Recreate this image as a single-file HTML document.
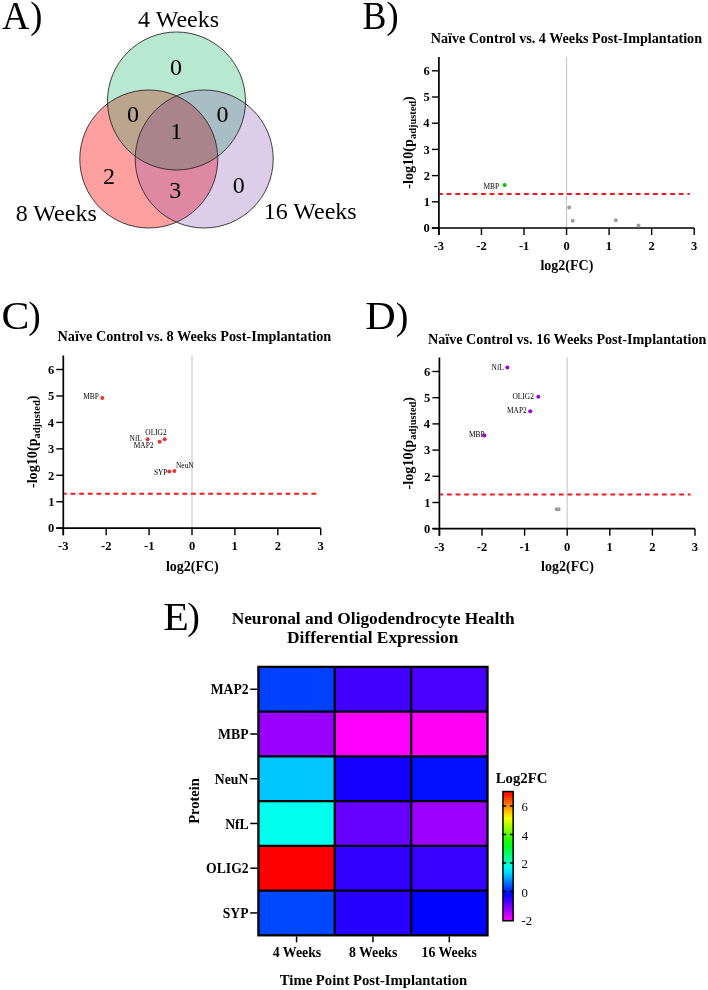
<!DOCTYPE html>
<html><head><meta charset="utf-8"><style>
html,body{margin:0;padding:0;background:#fff;}
svg{display:block;font-family:"Liberation Serif", serif;will-change:transform;}
</style></head><body>
<svg width="708" height="990" viewBox="0 0 708 990">
<rect width="708" height="990" fill="#fff"/>
<defs>
<clipPath id="cg"><circle cx="176.5" cy="101.0" r="69"/></clipPath>
<clipPath id="cp"><circle cx="148.8" cy="159.0" r="69"/></clipPath>
<clipPath id="cu"><circle cx="204.2" cy="159.0" r="69"/></clipPath>
</defs>
<circle cx="176.5" cy="101.0" r="69" fill="#b9e8d1"/>
<circle cx="148.8" cy="159.0" r="69" fill="#ffa0a0"/>
<circle cx="204.2" cy="159.0" r="69" fill="#dccde8"/>
<g clip-path="url(#cg)"><circle cx="148.8" cy="159.0" r="69" fill="#bba58f"/><circle cx="204.2" cy="159.0" r="69" fill="#a8bec4"/></g>
<g clip-path="url(#cp)"><circle cx="204.2" cy="159.0" r="69" fill="#de88a3"/></g>
<g clip-path="url(#cg)"><g clip-path="url(#cp)"><circle cx="204.2" cy="159.0" r="69" fill="#a9848a"/></g></g>
<circle cx="176.5" cy="101.0" r="69" fill="none" stroke="#2a2a2a" stroke-width="0.9"/>
<circle cx="148.8" cy="159.0" r="69" fill="none" stroke="#2a2a2a" stroke-width="0.9"/>
<circle cx="204.2" cy="159.0" r="69" fill="none" stroke="#2a2a2a" stroke-width="0.9"/>
<text x="170.10" y="75.40" font-size="24" font-weight="normal" >0</text>
<text x="126.90" y="122.30" font-size="24" font-weight="normal" >0</text>
<text x="216.40" y="122.30" font-size="24" font-weight="normal" >0</text>
<text x="170.27" y="138.60" font-size="24" font-weight="normal" >1</text>
<text x="102.92" y="183.80" font-size="24" font-weight="normal" >2</text>
<text x="169.21" y="197.60" font-size="24" font-weight="normal" >3</text>
<text x="232.70" y="192.70" font-size="24" font-weight="normal" >0</text>
<text x="138.12" y="26.60" font-size="24" font-weight="normal" >4 Weeks</text>
<text x="15.80" y="220.60" font-size="24" font-weight="normal" >8 Weeks</text>
<text x="263.70" y="219.40" font-size="24" font-weight="normal" >16 Weeks</text>
<text x="2.12" y="28.80" font-size="39.5" textLength="27.45" lengthAdjust="spacingAndGlyphs">A</text>
<text x="30.31" y="27.83" font-size="37.5" textLength="12.16" lengthAdjust="spacingAndGlyphs">)</text>
<text x="362.52" y="28.80" font-size="39.5" textLength="23.95" lengthAdjust="spacingAndGlyphs">B</text>
<text x="386.41" y="27.83" font-size="37.5" textLength="12.16" lengthAdjust="spacingAndGlyphs">)</text>
<text x="1.53" y="328.50" font-size="39.5" textLength="27.84" lengthAdjust="spacingAndGlyphs">C</text>
<text x="28.18" y="328.23" font-size="37.5" textLength="12.54" lengthAdjust="spacingAndGlyphs">)</text>
<text x="365.34" y="328.90" font-size="39.5" textLength="30.44" lengthAdjust="spacingAndGlyphs">D</text>
<text x="395.76" y="328.63" font-size="37.5" textLength="12.67" lengthAdjust="spacingAndGlyphs">)</text>
<text x="163.34" y="629.60" font-size="39.5" textLength="25.59" lengthAdjust="spacingAndGlyphs">E</text>
<text x="187.36" y="628.93" font-size="37.5" textLength="12.67" lengthAdjust="spacingAndGlyphs">)</text>
<line x1="566.55" y1="56.91" x2="566.55" y2="228.00" stroke="#c8c8c8" stroke-width="1.1"/>
<line x1="439.75" y1="193.91" x2="689.70" y2="193.91" stroke="#f21820" stroke-width="2" stroke-dasharray="4.8 3.8" stroke-dashoffset="1.75"/>
<path d="M438.90 56.91 V235.00 M431.90 228.00 H694.20" fill="none" stroke="#000" stroke-width="1.7"/>
<line x1="431.90" y1="228.00" x2="438.90" y2="228.00" stroke="#000" stroke-width="1.4"/>
<text x="423.62" y="232.20" font-size="12.5" font-weight="bold" >0</text>
<line x1="431.90" y1="201.80" x2="438.90" y2="201.80" stroke="#000" stroke-width="1.4"/>
<text x="423.81" y="206.00" font-size="12.5" font-weight="bold" >1</text>
<line x1="431.90" y1="175.60" x2="438.90" y2="175.60" stroke="#000" stroke-width="1.4"/>
<text x="423.68" y="179.80" font-size="12.5" font-weight="bold" >2</text>
<line x1="431.90" y1="149.40" x2="438.90" y2="149.40" stroke="#000" stroke-width="1.4"/>
<text x="423.59" y="153.60" font-size="12.5" font-weight="bold" >3</text>
<line x1="431.90" y1="123.20" x2="438.90" y2="123.20" stroke="#000" stroke-width="1.4"/>
<text x="423.37" y="127.40" font-size="12.5" font-weight="bold" >4</text>
<line x1="431.90" y1="97.00" x2="438.90" y2="97.00" stroke="#000" stroke-width="1.4"/>
<text x="423.62" y="101.20" font-size="12.5" font-weight="bold" >5</text>
<line x1="431.90" y1="70.80" x2="438.90" y2="70.80" stroke="#000" stroke-width="1.4"/>
<text x="423.52" y="75.00" font-size="12.5" font-weight="bold" >6</text>
<line x1="438.90" y1="228.00" x2="438.90" y2="235.00" stroke="#000" stroke-width="1.4"/>
<text x="433.68" y="249.80" font-size="12.5" font-weight="bold" >-3</text>
<line x1="481.45" y1="228.00" x2="481.45" y2="235.00" stroke="#000" stroke-width="1.4"/>
<text x="476.28" y="249.80" font-size="12.5" font-weight="bold" >-2</text>
<line x1="524.00" y1="228.00" x2="524.00" y2="235.00" stroke="#000" stroke-width="1.4"/>
<text x="518.89" y="249.80" font-size="12.5" font-weight="bold" >-1</text>
<line x1="566.55" y1="228.00" x2="566.55" y2="235.00" stroke="#000" stroke-width="1.4"/>
<text x="563.42" y="249.80" font-size="12.5" font-weight="bold" >0</text>
<line x1="609.10" y1="228.00" x2="609.10" y2="235.00" stroke="#000" stroke-width="1.4"/>
<text x="605.80" y="249.80" font-size="12.5" font-weight="bold" >1</text>
<line x1="651.65" y1="228.00" x2="651.65" y2="235.00" stroke="#000" stroke-width="1.4"/>
<text x="648.52" y="249.80" font-size="12.5" font-weight="bold" >2</text>
<line x1="694.20" y1="228.00" x2="694.20" y2="235.00" stroke="#000" stroke-width="1.4"/>
<text x="691.06" y="249.80" font-size="12.5" font-weight="bold" >3</text>
<text x="540.47" y="270.30" font-size="14" font-weight="bold" >log2(FC)</text>
<text transform="translate(412.90,142.46) rotate(-90)" font-size="14.2" font-weight="bold" text-anchor="middle">-log10(p<tspan font-size="10.4" dy="2.9">adjusted</tspan><tspan dy="-2.9">)</tspan></text>
<text x="430.72" y="42.50" font-size="14.15" font-weight="bold" >Naïve Control vs. 4 Weeks Post-Implantation</text>
<circle cx="569.2" cy="207.4" r="2" fill="#9e9e9e"/>
<circle cx="572.7" cy="220.7" r="2" fill="#9e9e9e"/>
<circle cx="615.9" cy="220.2" r="2" fill="#9e9e9e"/>
<circle cx="638.5" cy="225.5" r="2" fill="#9e9e9e"/>
<circle cx="504.7" cy="184.9" r="2" fill="#00c000"/>
<text x="483.38" y="188.90" font-size="7.4" font-weight="normal" >MBP</text>
<line x1="192.00" y1="355.48" x2="192.00" y2="528.20" stroke="#c8c8c8" stroke-width="1.1"/>
<line x1="64.15" y1="493.79" x2="316.20" y2="493.79" stroke="#f21820" stroke-width="2" stroke-dasharray="4.8 3.8" stroke-dashoffset="2.15"/>
<path d="M63.30 355.48 V535.20 M56.30 528.20 H320.70" fill="none" stroke="#000" stroke-width="1.7"/>
<line x1="56.30" y1="528.20" x2="63.30" y2="528.20" stroke="#000" stroke-width="1.4"/>
<text x="48.02" y="532.40" font-size="12.5" font-weight="bold" >0</text>
<line x1="56.30" y1="501.75" x2="63.30" y2="501.75" stroke="#000" stroke-width="1.4"/>
<text x="48.21" y="505.95" font-size="12.5" font-weight="bold" >1</text>
<line x1="56.30" y1="475.30" x2="63.30" y2="475.30" stroke="#000" stroke-width="1.4"/>
<text x="48.08" y="479.50" font-size="12.5" font-weight="bold" >2</text>
<line x1="56.30" y1="448.85" x2="63.30" y2="448.85" stroke="#000" stroke-width="1.4"/>
<text x="47.99" y="453.05" font-size="12.5" font-weight="bold" >3</text>
<line x1="56.30" y1="422.40" x2="63.30" y2="422.40" stroke="#000" stroke-width="1.4"/>
<text x="47.77" y="426.60" font-size="12.5" font-weight="bold" >4</text>
<line x1="56.30" y1="395.95" x2="63.30" y2="395.95" stroke="#000" stroke-width="1.4"/>
<text x="48.02" y="400.15" font-size="12.5" font-weight="bold" >5</text>
<line x1="56.30" y1="369.50" x2="63.30" y2="369.50" stroke="#000" stroke-width="1.4"/>
<text x="47.92" y="373.70" font-size="12.5" font-weight="bold" >6</text>
<line x1="63.30" y1="528.20" x2="63.30" y2="535.20" stroke="#000" stroke-width="1.4"/>
<text x="58.08" y="550.00" font-size="12.5" font-weight="bold" >-3</text>
<line x1="106.20" y1="528.20" x2="106.20" y2="535.20" stroke="#000" stroke-width="1.4"/>
<text x="101.03" y="550.00" font-size="12.5" font-weight="bold" >-2</text>
<line x1="149.10" y1="528.20" x2="149.10" y2="535.20" stroke="#000" stroke-width="1.4"/>
<text x="143.99" y="550.00" font-size="12.5" font-weight="bold" >-1</text>
<line x1="192.00" y1="528.20" x2="192.00" y2="535.20" stroke="#000" stroke-width="1.4"/>
<text x="188.88" y="550.00" font-size="12.5" font-weight="bold" >0</text>
<line x1="234.90" y1="528.20" x2="234.90" y2="535.20" stroke="#000" stroke-width="1.4"/>
<text x="231.60" y="550.00" font-size="12.5" font-weight="bold" >1</text>
<line x1="277.80" y1="528.20" x2="277.80" y2="535.20" stroke="#000" stroke-width="1.4"/>
<text x="274.68" y="550.00" font-size="12.5" font-weight="bold" >2</text>
<line x1="320.70" y1="528.20" x2="320.70" y2="535.20" stroke="#000" stroke-width="1.4"/>
<text x="317.56" y="550.00" font-size="12.5" font-weight="bold" >3</text>
<text x="165.91" y="570.50" font-size="14" font-weight="bold" >log2(FC)</text>
<text transform="translate(37.30,441.84) rotate(-90)" font-size="14.2" font-weight="bold" text-anchor="middle">-log10(p<tspan font-size="10.4" dy="2.9">adjusted</tspan><tspan dy="-2.9">)</tspan></text>
<text x="57.51" y="340.60" font-size="14.27" font-weight="bold" >Naïve Control vs. 8 Weeks Post-Implantation</text>
<circle cx="102.3" cy="398.0" r="2" fill="#f03030"/>
<circle cx="147.6" cy="439.2" r="2" fill="#f03030"/>
<circle cx="159.7" cy="441.7" r="2" fill="#f03030"/>
<circle cx="164.7" cy="439.3" r="2" fill="#f03030"/>
<circle cx="169.3" cy="471.4" r="2" fill="#f03030"/>
<circle cx="174.4" cy="471.0" r="2" fill="#f03030"/>
<text x="83.18" y="399.20" font-size="7.4" font-weight="normal" >MBP</text>
<text x="145.30" y="434.60" font-size="7.4" font-weight="normal" >OLIG2</text>
<text x="129.58" y="441.00" font-size="7.4" font-weight="normal" >NfL</text>
<text x="133.78" y="447.60" font-size="7.4" font-weight="normal" >MAP2</text>
<text x="175.88" y="468.10" font-size="7.4" font-weight="normal" >NeuN</text>
<text x="153.90" y="475.30" font-size="7.4" font-weight="normal" >SYP</text>
<line x1="567.20" y1="357.61" x2="567.20" y2="528.70" stroke="#c8c8c8" stroke-width="1.1"/>
<line x1="440.25" y1="494.61" x2="690.50" y2="494.61" stroke="#f21820" stroke-width="2" stroke-dasharray="4.8 3.8" stroke-dashoffset="1.85"/>
<path d="M439.40 357.61 V535.70 M432.40 528.70 H695.00" fill="none" stroke="#000" stroke-width="1.7"/>
<line x1="432.40" y1="528.70" x2="439.40" y2="528.70" stroke="#000" stroke-width="1.4"/>
<text x="424.12" y="532.90" font-size="12.5" font-weight="bold" >0</text>
<line x1="432.40" y1="502.50" x2="439.40" y2="502.50" stroke="#000" stroke-width="1.4"/>
<text x="424.31" y="506.70" font-size="12.5" font-weight="bold" >1</text>
<line x1="432.40" y1="476.30" x2="439.40" y2="476.30" stroke="#000" stroke-width="1.4"/>
<text x="424.18" y="480.50" font-size="12.5" font-weight="bold" >2</text>
<line x1="432.40" y1="450.10" x2="439.40" y2="450.10" stroke="#000" stroke-width="1.4"/>
<text x="424.09" y="454.30" font-size="12.5" font-weight="bold" >3</text>
<line x1="432.40" y1="423.90" x2="439.40" y2="423.90" stroke="#000" stroke-width="1.4"/>
<text x="423.87" y="428.10" font-size="12.5" font-weight="bold" >4</text>
<line x1="432.40" y1="397.70" x2="439.40" y2="397.70" stroke="#000" stroke-width="1.4"/>
<text x="424.12" y="401.90" font-size="12.5" font-weight="bold" >5</text>
<line x1="432.40" y1="371.50" x2="439.40" y2="371.50" stroke="#000" stroke-width="1.4"/>
<text x="424.02" y="375.70" font-size="12.5" font-weight="bold" >6</text>
<line x1="439.40" y1="528.70" x2="439.40" y2="535.70" stroke="#000" stroke-width="1.4"/>
<text x="434.18" y="550.50" font-size="12.5" font-weight="bold" >-3</text>
<line x1="482.00" y1="528.70" x2="482.00" y2="535.70" stroke="#000" stroke-width="1.4"/>
<text x="476.83" y="550.50" font-size="12.5" font-weight="bold" >-2</text>
<line x1="524.60" y1="528.70" x2="524.60" y2="535.70" stroke="#000" stroke-width="1.4"/>
<text x="519.49" y="550.50" font-size="12.5" font-weight="bold" >-1</text>
<line x1="567.20" y1="528.70" x2="567.20" y2="535.70" stroke="#000" stroke-width="1.4"/>
<text x="564.08" y="550.50" font-size="12.5" font-weight="bold" >0</text>
<line x1="609.80" y1="528.70" x2="609.80" y2="535.70" stroke="#000" stroke-width="1.4"/>
<text x="606.50" y="550.50" font-size="12.5" font-weight="bold" >1</text>
<line x1="652.40" y1="528.70" x2="652.40" y2="535.70" stroke="#000" stroke-width="1.4"/>
<text x="649.27" y="550.50" font-size="12.5" font-weight="bold" >2</text>
<line x1="695.00" y1="528.70" x2="695.00" y2="535.70" stroke="#000" stroke-width="1.4"/>
<text x="691.86" y="550.50" font-size="12.5" font-weight="bold" >3</text>
<text x="541.12" y="571.00" font-size="14" font-weight="bold" >log2(FC)</text>
<text transform="translate(413.40,443.16) rotate(-90)" font-size="14.2" font-weight="bold" text-anchor="middle">-log10(p<tspan font-size="10.4" dy="2.9">adjusted</tspan><tspan dy="-2.9">)</tspan></text>
<text x="428.02" y="343.50" font-size="14.15" font-weight="bold" >Naïve Control vs. 16 Weeks Post-Implantation</text>
<circle cx="556.6" cy="509.2" r="2" fill="#9e9e9e"/>
<circle cx="558.6" cy="509.2" r="2" fill="#9e9e9e"/>
<circle cx="507.3" cy="367.4" r="2" fill="#a000e0"/>
<circle cx="538.3" cy="396.7" r="2" fill="#a000e0"/>
<circle cx="530.2" cy="411.3" r="2" fill="#a000e0"/>
<circle cx="484.3" cy="435.6" r="2" fill="#a000e0"/>
<text x="491.58" y="369.80" font-size="7.4" font-weight="normal" >NfL</text>
<text x="512.50" y="399.40" font-size="7.4" font-weight="normal" >OLIG2</text>
<text x="506.98" y="412.90" font-size="7.4" font-weight="normal" >MAP2</text>
<text x="468.88" y="437.00" font-size="7.4" font-weight="normal" >MBP</text>
<rect x="258.40" y="666.90" width="76.37" height="44.73" fill="#0040ff"/>
<rect x="334.77" y="666.90" width="76.37" height="44.73" fill="#4200ff"/>
<rect x="411.13" y="666.90" width="76.37" height="44.73" fill="#4a00ff"/>
<rect x="258.40" y="711.63" width="76.37" height="44.73" fill="#9900ff"/>
<rect x="334.77" y="711.63" width="76.37" height="44.73" fill="#ff00ff"/>
<rect x="411.13" y="711.63" width="76.37" height="44.73" fill="#ff00f5"/>
<rect x="258.40" y="756.37" width="76.37" height="44.73" fill="#00c8ff"/>
<rect x="334.77" y="756.37" width="76.37" height="44.73" fill="#1400ff"/>
<rect x="411.13" y="756.37" width="76.37" height="44.73" fill="#0010ff"/>
<rect x="258.40" y="801.10" width="76.37" height="44.73" fill="#00ffee"/>
<rect x="334.77" y="801.10" width="76.37" height="44.73" fill="#6600ff"/>
<rect x="411.13" y="801.10" width="76.37" height="44.73" fill="#9c00ff"/>
<rect x="258.40" y="845.83" width="76.37" height="44.73" fill="#ff0000"/>
<rect x="334.77" y="845.83" width="76.37" height="44.73" fill="#3000ff"/>
<rect x="411.13" y="845.83" width="76.37" height="44.73" fill="#3800ff"/>
<rect x="258.40" y="890.57" width="76.37" height="44.73" fill="#0048ff"/>
<rect x="334.77" y="890.57" width="76.37" height="44.73" fill="#2800ff"/>
<rect x="411.13" y="890.57" width="76.37" height="44.73" fill="#0004ff"/>
<line x1="334.77" y1="666.9" x2="334.77" y2="935.3" stroke="#000" stroke-width="2.3"/>
<line x1="411.13" y1="666.9" x2="411.13" y2="935.3" stroke="#000" stroke-width="2.3"/>
<line x1="258.4" y1="711.63" x2="487.5" y2="711.63" stroke="#000" stroke-width="2.3"/>
<line x1="258.4" y1="756.37" x2="487.5" y2="756.37" stroke="#000" stroke-width="2.3"/>
<line x1="258.4" y1="801.10" x2="487.5" y2="801.10" stroke="#000" stroke-width="2.3"/>
<line x1="258.4" y1="845.83" x2="487.5" y2="845.83" stroke="#000" stroke-width="2.3"/>
<line x1="258.4" y1="890.57" x2="487.5" y2="890.57" stroke="#000" stroke-width="2.3"/>
<rect x="258.40" y="666.90" width="229.10" height="268.40" fill="none" stroke="#000" stroke-width="2.3"/>
<line x1="250.25" y1="689.27" x2="257.25" y2="689.27" stroke="#000" stroke-width="1.5"/>
<text x="210.68" y="694.37" font-size="13.7" font-weight="bold" >MAP2</text>
<line x1="250.25" y1="734.00" x2="257.25" y2="734.00" stroke="#000" stroke-width="1.5"/>
<text x="218.11" y="739.10" font-size="13.7" font-weight="bold" >MBP</text>
<line x1="250.25" y1="778.73" x2="257.25" y2="778.73" stroke="#000" stroke-width="1.5"/>
<text x="214.82" y="783.83" font-size="13.7" font-weight="bold" >NeuN</text>
<line x1="250.25" y1="823.47" x2="257.25" y2="823.47" stroke="#000" stroke-width="1.5"/>
<text x="225.13" y="828.57" font-size="13.7" font-weight="bold" >NfL</text>
<line x1="250.25" y1="868.20" x2="257.25" y2="868.20" stroke="#000" stroke-width="1.5"/>
<text x="206.09" y="873.30" font-size="13.7" font-weight="bold" >OLIG2</text>
<line x1="250.25" y1="912.93" x2="257.25" y2="912.93" stroke="#000" stroke-width="1.5"/>
<text x="222.67" y="918.03" font-size="13.7" font-weight="bold" >SYP</text>
<line x1="296.58" y1="936.45" x2="296.58" y2="942.35" stroke="#000" stroke-width="1.5"/>
<text x="272.75" y="957.30" font-size="13.8" font-weight="bold" >4 Weeks</text>
<line x1="372.95" y1="936.45" x2="372.95" y2="942.35" stroke="#000" stroke-width="1.5"/>
<text x="348.98" y="957.30" font-size="13.8" font-weight="bold" >8 Weeks</text>
<line x1="449.32" y1="936.45" x2="449.32" y2="942.35" stroke="#000" stroke-width="1.5"/>
<text x="421.57" y="957.30" font-size="13.8" font-weight="bold" >16 Weeks</text>
<text x="279.81" y="984.50" font-size="14.7" font-weight="bold" >Time Point Post-Implantation</text>
<text transform="translate(199.2,801) rotate(-90)" font-size="14.5" font-weight="bold" text-anchor="middle">Protein</text>
<text x="231.64" y="624.40" font-size="17.35" font-weight="bold" >Neuronal and Oligodendrocyte Health</text>
<text x="287.09" y="643.00" font-size="17.35" font-weight="bold" >Differential Expression</text>
<defs><linearGradient id="cbg" x1="0" y1="0" x2="0" y2="1"><stop offset="0.000" stop-color="#ff0000"/><stop offset="0.042" stop-color="#ff2f00"/><stop offset="0.083" stop-color="#ff6500"/><stop offset="0.125" stop-color="#ff9b00"/><stop offset="0.167" stop-color="#ffd000"/><stop offset="0.208" stop-color="#f7ff00"/><stop offset="0.250" stop-color="#c1ff00"/><stop offset="0.292" stop-color="#8cff00"/><stop offset="0.333" stop-color="#56ff00"/><stop offset="0.375" stop-color="#20ff00"/><stop offset="0.417" stop-color="#00ff14"/><stop offset="0.458" stop-color="#00ff4a"/><stop offset="0.500" stop-color="#00ff80"/><stop offset="0.542" stop-color="#00ffb5"/><stop offset="0.583" stop-color="#00ffeb"/><stop offset="0.625" stop-color="#00dcff"/><stop offset="0.667" stop-color="#00a7ff"/><stop offset="0.708" stop-color="#0071ff"/><stop offset="0.750" stop-color="#003bff"/><stop offset="0.792" stop-color="#0006ff"/><stop offset="0.833" stop-color="#2f00ff"/><stop offset="0.875" stop-color="#6500ff"/><stop offset="0.917" stop-color="#9a00ff"/><stop offset="0.958" stop-color="#d000ff"/><stop offset="1.000" stop-color="#ff00ff"/></linearGradient></defs>
<rect x="502.95" y="791.55" width="10.20" height="129.20" fill="url(#cbg)" stroke="#000" stroke-width="1.5"/>
<line x1="502.2" y1="891.50" x2="506.2" y2="891.50" stroke="#000" stroke-width="1.5"/>
<line x1="509.9" y1="891.50" x2="513.9" y2="891.50" stroke="#000" stroke-width="1.5"/>
<line x1="502.2" y1="863.00" x2="506.2" y2="863.00" stroke="#000" stroke-width="1.5"/>
<line x1="509.9" y1="863.00" x2="513.9" y2="863.00" stroke="#000" stroke-width="1.5"/>
<line x1="502.2" y1="834.50" x2="506.2" y2="834.50" stroke="#000" stroke-width="1.5"/>
<line x1="509.9" y1="834.50" x2="513.9" y2="834.50" stroke="#000" stroke-width="1.5"/>
<line x1="502.2" y1="806.00" x2="506.2" y2="806.00" stroke="#000" stroke-width="1.5"/>
<line x1="509.9" y1="806.00" x2="513.9" y2="806.00" stroke="#000" stroke-width="1.5"/>
<text x="521.62" y="925.20" font-size="12.8" font-weight="normal" >-2</text>
<text x="521.62" y="896.70" font-size="12.8" font-weight="normal" >0</text>
<text x="521.52" y="868.20" font-size="12.8" font-weight="normal" >2</text>
<text x="521.84" y="839.70" font-size="12.8" font-weight="normal" >4</text>
<text x="521.56" y="811.20" font-size="12.8" font-weight="normal" >6</text>
<text x="495.64" y="782.70" font-size="14.8" font-weight="bold" >Log2FC</text>
</svg></body></html>
